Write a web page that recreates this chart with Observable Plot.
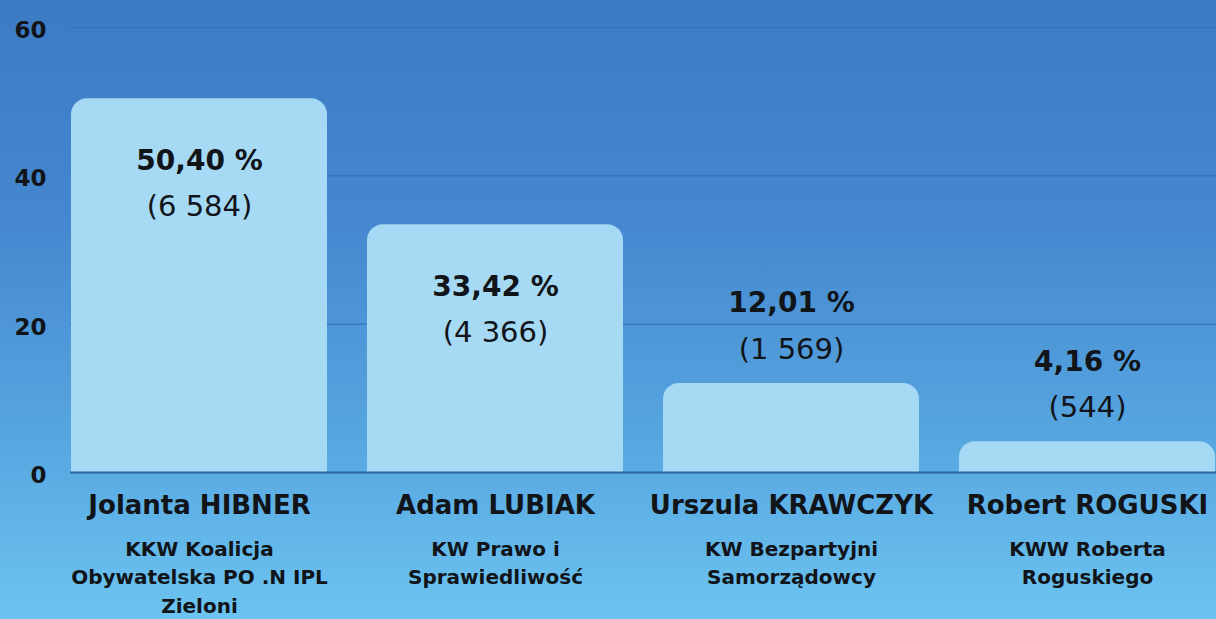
<!DOCTYPE html>
<html>
<head>
<meta charset="utf-8">
<script src="https://cdn.jsdelivr.net/npm/d3@7"></script>
<script src="https://cdn.jsdelivr.net/npm/@observablehq/plot@0.6"></script>
<style>
  html, body { margin: 0; padding: 0; }
  body {
    width: 1216px; height: 619px; overflow: hidden;
    background: linear-gradient(to bottom, #3c7ac4 0%, #4587cf 35%, #56a5e0 70%, #6cc4f0 100%);
    font-family: "DejaVu Sans", sans-serif;
  }
  #chart svg { display: block; background: transparent; }
</style>
</head>
<body>
<div id="chart"></div>
<script>
const candidates = ["Jolanta HIBNER", "Adam LUBIAK", "Urszula KRAWCZYK", "Robert ROGUSKI"];
const committees = [
  "KKW Koalicja\nObywatelska PO .N IPL\nZieloni",
  "KW Prawo i\nSprawiedliwość",
  "KW Bezpartyjni\nSamorządowcy",
  "KWW Roberta\nRoguskiego"
];
const percents = [50.40, 33.42, 12.01, 4.16];
const votes = [6584, 4366, 1569, 544];
const yTicks = [0, 20, 40, 60];

const data = candidates.map((name, i) => ({
  name, committee: committees[i], pct: percents[i], votes: votes[i]
}));

const locale = d3.formatLocale({decimal: ",", thousands: " ", grouping: [3], currency: ["", " zł"]});
const fmtVotes = locale.format(",d");
const fmtPct = locale.format(".2f");

const barFill = "#a5d9f4";
const ink = "#111418";

const chart = Plot.plot({
  width: 1216,
  height: 619,
  marginLeft: 70,
  marginRight: 0,
  marginTop: 27,
  marginBottom: 147,
  style: {background: "transparent", fontFamily: "DejaVu Sans, sans-serif", overflow: "hidden"},
  x: {domain: candidates, range: [51, 1236], paddingInner: 0.135, paddingOuter: 0.0675, axis: null},
  y: {domain: [0, 60], range: [472, 27], axis: null},
  marks: [
    Plot.gridY(yTicks.filter(t => t > 0), {stroke: "#2c66ad", strokeOpacity: 0.55, strokeWidth: 1.5}),
    Plot.axisY(yTicks, {anchor: "left", tickSize: 0, tickPadding: 24, dy: 3, fontSize: 23, fontWeight: 700, fill: ink, label: null, tickFormat: d => String(d)}),
    Plot.barY(data, {x: "name", y: "pct", fill: barFill, rx: 16}),
    Plot.barY(data, {x: "name", y1: 0, y2: d => d.pct / 2, fill: barFill}),
    Plot.ruleY([0], {stroke: "#2d679e", strokeWidth: 2}),
    // labels inside tall bars
    Plot.text(data.filter(d => d.pct > 30), {x: "name", y: "pct", text: d => fmtPct(d.pct) + " %", dy: 62, fontSize: 28, fontWeight: 700, fill: ink}),
    Plot.text(data.filter(d => d.pct > 30), {x: "name", y: "pct", text: d => "(" + fmtVotes(d.votes) + ")", dy: 108, fontSize: 29, fontWeight: 400, fill: ink}),
    // labels above short bars
    Plot.text(data.filter(d => d.pct <= 30), {x: "name", y: "pct", text: d => fmtPct(d.pct) + " %", dy: -80, fontSize: 28, fontWeight: 700, fill: ink}),
    Plot.text(data.filter(d => d.pct <= 30), {x: "name", y: "pct", text: d => "(" + fmtVotes(d.votes) + ")", dy: -34, fontSize: 29, fontWeight: 400, fill: ink}),
    // category labels
    Plot.text(data, {x: "name", y: 0, text: "name", dy: 33, fontSize: 26, fontWeight: 700, fill: ink}),
    Plot.text(data, {x: "name", y: 0, text: "committee", dy: 63, lineAnchor: "top", lineHeight: 1.43, fontSize: 20, fontWeight: 700, fill: ink})
  ]
});
document.getElementById("chart").appendChild(chart);
</script>
</body>
</html>
